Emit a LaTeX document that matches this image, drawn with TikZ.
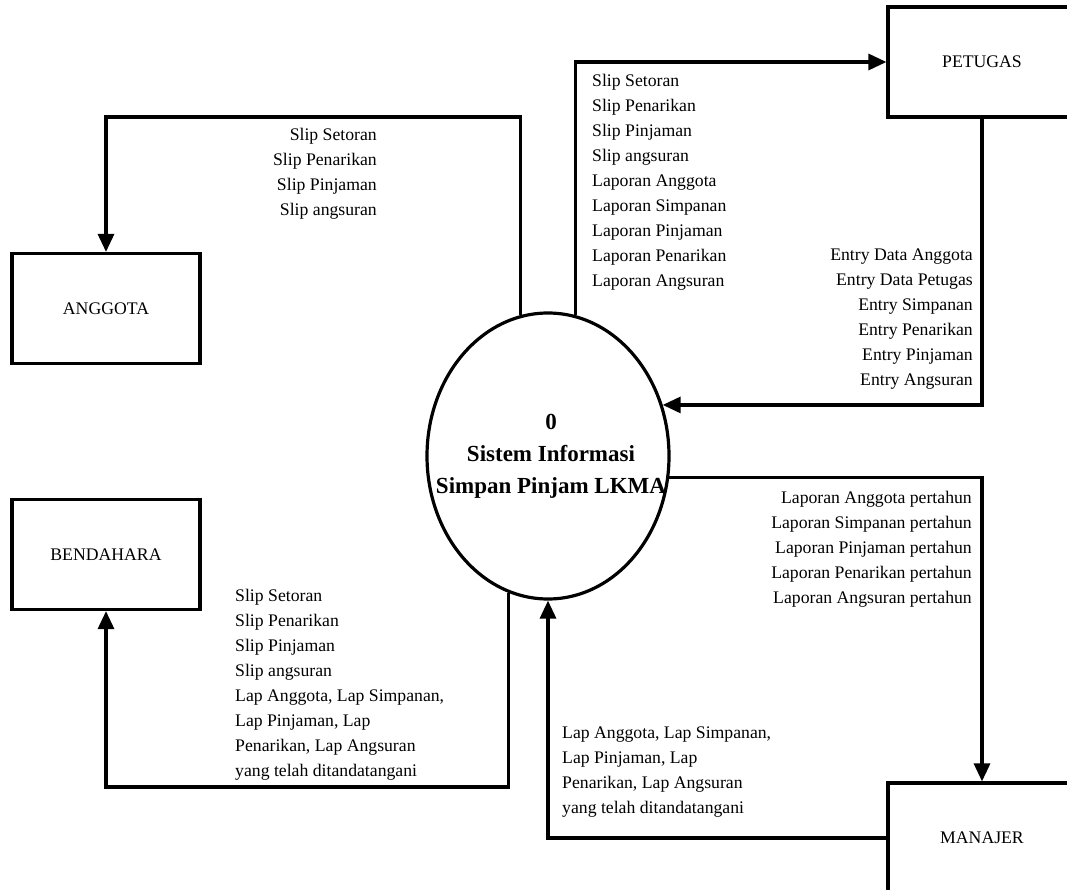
\documentclass[tikz,border=0pt]{standalone}
\usepackage{fontspec}
\setmainfont{Liberation Serif}
\usetikzlibrary{arrows.meta,shapes.geometric}
\begin{document}
\begin{tikzpicture}[x=1pt,y=-1pt,
  entity/.style={draw,line width=3.2pt,minimum width=188pt,minimum height=110pt,inner sep=0pt,font=\fontsize{17.7}{25}\selectfont},
  proc/.style={draw,ellipse,line width=3.2pt,minimum width=242pt,minimum height=286pt,inner sep=0pt},
  proctext/.style={inner sep=0pt,font=\bfseries\fontsize{23}{32}\selectfont,align=center},
  flow/.style={line width=3.2pt,-{Triangle[length=18pt,width=16pt]}},
  lbl/.style={inner sep=0pt,font=\fontsize{17.7}{25}\selectfont}
]
\useasboundingbox (0,0) rectangle (1067,890);
\clip (0,0) rectangle (1067,890);

\node[entity] (petugas) at (982,62) {PETUGAS};
\node[entity] (manajer) at (982,838) {MANAJER};
\node[entity] (anggota) at (106,308.5) {ANGGOTA};
\node[entity] (bendahara) at (106,554.5) {BENDAHARA};

\node[proc] (proc) at (548,456) {};
\node[proctext] (proct) at (551,456) {0\\Sistem Informasi\\Simpan Pinjam LKMA};

\draw[flow] (proc.101) |- (anggota.north |- 0,117) -- (anggota.north);
\draw[flow] (proc.79) |- (petugas.west);
\draw[flow] (petugas.south) |- (proc.24);
\draw[flow] (proc.350) -| (manajer.north);
\draw[flow] (manajer.west) -| (proc.south);
\draw[flow] (proc.254) |- (bendahara.south |- 0,787) -- (bendahara.south);

\node[lbl,align=right,anchor=north east] (l1) at (377,128) {Slip Setoran\\Slip Penarikan\\Slip Pinjaman\\Slip angsuran};
\node[lbl,align=left,anchor=north west] (l2) at (592,74) {Slip Setoran\\Slip Penarikan\\Slip Pinjaman\\Slip angsuran\\Laporan Anggota\\Laporan Simpanan\\Laporan Pinjaman\\Laporan Penarikan\\Laporan Angsuran};
\node[lbl,align=right,anchor=north east] (l3) at (973,249) {Entry Data Anggota\\Entry Data Petugas\\Entry Simpanan\\Entry Penarikan\\Entry Pinjaman\\Entry Angsuran};
\node[lbl,align=right,anchor=north east] (l4) at (972,491) {Laporan Anggota pertahun\\Laporan Simpanan pertahun\\Laporan Pinjaman pertahun\\Laporan Penarikan pertahun\\Laporan Angsuran pertahun};
\node[lbl,align=left,anchor=north west] (l5) at (235,589) {Slip Setoran\\Slip Penarikan\\Slip Pinjaman\\Slip angsuran\\Lap Anggota, Lap Simpanan,\\Lap Pinjaman, Lap\\Penarikan, Lap Angsuran\\yang telah ditandatangani};
\node[lbl,align=left,anchor=north west] (l6) at (562,727) {Lap Anggota, Lap Simpanan,\\Lap Pinjaman, Lap\\Penarikan, Lap Angsuran\\yang telah ditandatangani};
\end{tikzpicture}
\end{document}
